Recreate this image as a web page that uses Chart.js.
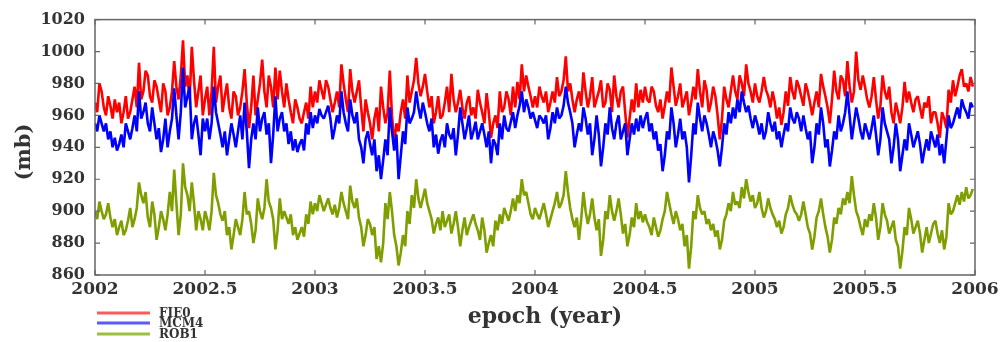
<!DOCTYPE html>
<html>
<head>
<meta charset="utf-8">
<script src="https://cdn.jsdelivr.net/npm/chart.js@4.4.1/dist/chart.umd.min.js"></script>
<style>
  html, body { margin: 0; padding: 0; background: #fff; }
  #wrap { width: 1005px; height: 342px; }
</style>
</head>
<body>
<div id="wrap"><canvas id="chart" width="1005" height="342"></canvas></div>
<script>
// Pressure series (mb), one sample every 0.01 year from 2002.0, one row per half year
var fie0 = [
  968,962,980,975,965,960,972,966,958,970,962,968,955,962,972,958,962,970,978,965,993,970,975,988,985,972,968,982,978,970,962,980,975,960,965,975,994,978,970,985,1007,978,985,970,1003,982,965,975,985,960,
  970,978,960,975,1003,968,978,985,962,972,980,965,958,975,972,960,965,975,989,968,952,965,985,960,970,980,995,975,965,985,978,965,990,970,988,975,965,980,970,962,955,970,965,958,955,962,968,958,978,965,
  975,968,982,976,970,982,978,970,962,968,975,965,992,980,970,962,989,975,968,975,982,965,950,970,962,955,945,958,965,950,978,965,955,962,988,960,942,955,950,962,970,958,985,968,975,982,996,980,972,978,
  986,975,965,972,955,962,972,958,960,968,978,962,986,970,962,968,976,965,958,968,972,960,965,958,976,968,962,955,974,962,946,955,960,952,975,962,965,975,970,960,978,965,981,970,992,975,985,978,972,965,
  972,965,978,972,968,975,962,968,975,968,984,972,975,982,997,975,980,970,962,970,975,966,987,975,965,972,984,965,970,975,982,965,968,980,976,962,985,972,965,975,978,962,946,958,970,962,980,965,976,968,
  978,970,968,978,975,966,962,970,958,966,975,968,990,978,966,972,980,965,970,975,960,968,978,970,989,975,965,982,976,962,968,978,972,960,945,958,978,970,965,975,985,975,970,985,980,972,992,980,975,968,
  980,972,968,975,984,976,972,965,975,968,958,965,954,962,975,966,984,975,970,982,978,972,966,980,975,968,960,968,975,965,986,978,972,965,955,970,988,975,970,985,982,972,994,978,968,975,1000,982,976,985,
  978,970,965,972,984,970,958,966,985,975,970,978,962,955,968,962,955,965,981,968,975,968,962,970,972,965,958,968,965,972,955,962,962,955,946,962,958,952,976,968,982,972,978,985,989,978,980,975,984,978
];
var mcm4 = [
  955,950,960,955,950,955,945,950,940,946,938,942,948,940,955,950,945,952,960,950,975,958,962,968,955,950,965,955,945,952,937,945,958,940,950,958,977,960,945,962,990,965,972,978,945,955,960,948,935,958,
  950,958,945,955,978,962,955,948,940,950,935,945,955,948,940,950,960,945,968,950,927,945,955,945,965,950,958,962,948,955,930,948,972,950,958,962,950,955,942,950,938,945,937,942,945,938,955,948,962,952,
  960,955,964,960,958,962,966,958,945,952,960,955,975,962,955,950,970,960,955,962,945,940,930,945,950,942,935,945,925,935,920,932,945,935,965,950,938,948,920,935,950,942,965,955,958,962,975,965,958,968,
  962,955,950,958,940,948,936,944,948,940,955,948,945,952,935,948,965,955,945,952,960,945,950,956,945,950,955,948,940,950,930,945,942,935,955,945,960,952,950,956,962,952,960,966,975,962,970,965,958,962,
  957,952,960,958,955,960,945,952,962,955,965,958,960,966,978,968,962,955,940,948,955,950,965,958,948,955,935,945,960,948,928,940,955,948,965,952,945,955,960,945,950,955,935,945,955,948,958,950,960,952,
  958,962,950,955,945,950,938,942,925,935,950,945,965,955,940,948,958,945,950,940,918,935,955,948,968,958,950,960,955,948,940,950,945,938,928,940,955,948,962,955,965,958,970,962,975,968,962,966,958,952,
  960,955,948,955,945,950,962,955,950,956,945,950,940,948,955,950,965,958,955,962,958,950,960,952,945,950,930,940,955,948,965,955,940,945,928,938,950,945,960,950,955,962,975,960,945,955,965,958,950,945,
  955,950,945,952,960,948,935,945,965,955,950,945,930,940,955,945,925,935,945,938,955,948,940,945,950,942,930,938,945,938,950,945,940,948,935,942,930,945,960,952,955,960,965,958,970,965,962,958,968,965
];
var rob1 = [
  900,895,906,900,895,898,905,896,890,895,885,890,894,885,888,894,902,890,895,902,918,910,905,912,896,890,906,898,882,890,900,895,888,898,912,900,926,905,885,898,930,915,910,900,918,905,888,900,895,888,
  900,895,888,900,924,910,905,898,894,900,885,890,876,885,895,890,885,895,912,898,900,892,880,888,908,900,895,902,920,906,902,895,876,888,908,895,900,896,892,898,885,890,882,886,890,884,898,892,906,898,
  905,900,910,905,900,904,908,902,898,904,896,902,912,905,900,895,916,906,902,908,896,890,878,885,895,892,885,890,870,878,868,880,905,895,912,900,885,878,866,874,885,878,900,892,910,902,920,908,902,908,
  914,905,900,895,886,892,896,888,900,890,894,898,886,892,900,890,878,888,896,885,890,894,898,892,888,882,896,888,874,880,885,878,894,888,898,892,902,898,894,900,908,900,910,905,920,910,912,905,898,895,
  902,898,895,900,905,898,890,895,900,905,912,902,905,910,925,912,902,895,890,896,882,895,912,900,892,898,908,896,888,895,872,882,900,895,910,900,894,900,908,898,886,892,878,885,896,890,905,895,900,893,
  898,893,890,885,896,890,884,888,895,900,912,905,898,892,900,895,888,892,878,885,864,878,900,895,910,902,898,900,892,895,888,892,884,888,876,882,894,898,905,900,912,904,906,902,915,908,920,912,906,910,
  902,905,912,902,896,900,908,902,898,895,890,894,886,890,898,902,910,904,900,898,894,898,906,898,890,886,876,884,896,900,908,898,890,884,874,882,896,892,902,898,908,904,912,905,922,910,900,896,890,885,
  895,890,898,894,905,896,882,890,905,898,894,886,890,894,882,878,864,875,890,885,902,895,886,890,894,886,874,882,890,880,886,892,894,886,880,888,876,884,905,898,900,905,910,904,912,906,915,908,910,914
];
var startEpoch = 2002;
var sampleStep = 0.01;
var xTicks = [2002, 2002.5, 2003, 2003.5, 2004, 2004.5, 2005, 2005.5, 2006];
var yTicks = [860, 880, 900, 920, 940, 960, 980, 1000, 1020];

var serif = "'DejaVu Serif', 'Liberation Serif', serif";

function pairs(values) {
  return values.map(function (v, i) {
    return { x: startEpoch + i * sampleStep, y: v };
  });
}

// Box, inward ticks, axis titles and the legend under the axis
var framePlugin = {
  id: 'frame',
  afterDatasetsDraw: function (chart) {
    var ctx = chart.ctx, a = chart.chartArea;
    var xs = chart.scales.x, ys = chart.scales.y;
    ctx.save();
    ctx.strokeStyle = '#666';
    ctx.lineWidth = 1.5;
    ctx.strokeRect(a.left, a.top, a.right - a.left, a.bottom - a.top);
    ctx.lineWidth = 1.2;
    ctx.beginPath();
    xTicks.forEach(function (t) {
      var px = xs.getPixelForValue(t);
      ctx.moveTo(px, a.bottom); ctx.lineTo(px, a.bottom - 5);
      ctx.moveTo(px, a.top); ctx.lineTo(px, a.top + 5);
    });
    yTicks.forEach(function (t) {
      var py = ys.getPixelForValue(t);
      ctx.moveTo(a.left, py); ctx.lineTo(a.left + 5, py);
      ctx.moveTo(a.right, py); ctx.lineTo(a.right - 5, py);
    });
    ctx.stroke();
    ctx.restore();
  },
  afterDraw: function (chart) {
    var ctx = chart.ctx;
    ctx.save();
    ctx.fillStyle = '#333';
    ctx.textAlign = 'center';
    ctx.textBaseline = 'middle';
    ctx.font = 'bold 22px ' + serif;
    ctx.fillText('epoch (year)', 545, 317);
    ctx.translate(25, 152);
    ctx.rotate(-Math.PI / 2);
    ctx.font = 'bold 21px ' + serif;
    ctx.fillText('(mb)', 0, 0);
    ctx.restore();

    ctx.save();
    ctx.font = 'bold 12px ' + serif;
    ctx.textAlign = 'left';
    ctx.textBaseline = 'middle';
    var legendY = [313, 323, 334];
    chart.data.datasets.forEach(function (ds, i) {
      ctx.strokeStyle = ds.legendColor;
      ctx.lineWidth = 3;
      ctx.beginPath();
      ctx.moveTo(97, legendY[i]);
      ctx.lineTo(150, legendY[i]);
      ctx.stroke();
      ctx.fillStyle = '#333';
      ctx.fillText(ds.label, 159, legendY[i] + 1);
    });
    ctx.restore();
  }
};

new Chart(document.getElementById('chart').getContext('2d'), {
  type: 'line',
  data: {
    datasets: [
      { label: 'FIE0', data: pairs(fie0), borderColor: '#ff0000', legendColor: '#ff5a5a', order: 3 },
      { label: 'MCM4', data: pairs(mcm4), borderColor: '#0000ff', legendColor: '#5a5aff', order: 2 },
      { label: 'ROB1', data: pairs(rob1), borderColor: '#7f9f00', legendColor: '#9cbf40', order: 1 }
    ]
  },
  options: {
    responsive: false,
    animation: false,
    layout: { padding: { top: 10, right: 30, bottom: 0, left: 0 } },
    elements: {
      line: { borderWidth: 2.6, tension: 0, borderJoinStyle: 'bevel' },
      point: { radius: 0 }
    },
    plugins: { legend: { display: false }, tooltip: { enabled: false } },
    scales: {
      x: {
        type: 'linear',
        min: 2002,
        max: 2006,
        afterFit: function (s) { s.height = 67; },
        afterBuildTicks: function (s) { s.ticks = xTicks.map(function (v) { return { value: v }; }); },
        grid: { display: false, drawTicks: false },
        border: { display: false },
        ticks: {
          padding: 4,
          maxRotation: 0,
          color: '#333',
          font: { family: serif, size: 17, weight: 'bold' },
          callback: function (v) { return String(v); }
        }
      },
      y: {
        min: 860,
        max: 1020,
        afterFit: function (s) { s.width = 95; },
        afterBuildTicks: function (s) { s.ticks = yTicks.map(function (v) { return { value: v }; }); },
        grid: { display: false, drawTicks: false },
        border: { display: false },
        ticks: {
          padding: 10,
          color: '#333',
          font: { family: serif, size: 16, weight: 'bold' },
          callback: function (v) { return String(v); }
        }
      }
    }
  },
  plugins: [framePlugin]
});
</script>
</body>
</html>
